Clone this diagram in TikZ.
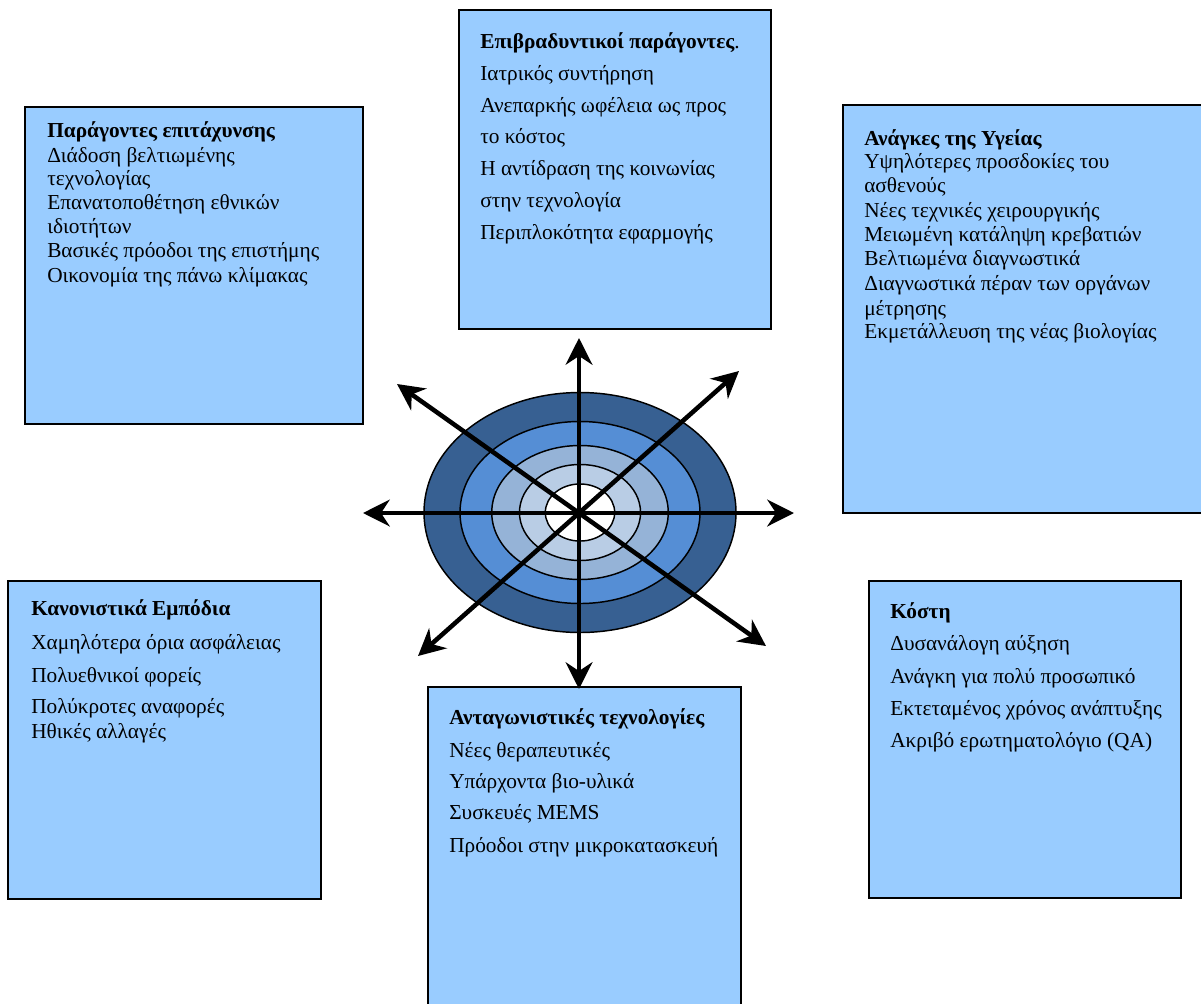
\documentclass[tikz,border=0pt]{standalone}
\usepackage{fontspec}
\setmainfont{Liberation Serif}
\usetikzlibrary{arrows.meta}
\definecolor{boxfill}{HTML}{99CCFF}
\definecolor{ringA}{HTML}{376092}
\definecolor{ringB}{HTML}{558ED5}
\definecolor{ringC}{HTML}{95B3D7}
\definecolor{ringD}{HTML}{B9CDE5}
\begin{document}
\begin{tikzpicture}[x=0.75pt,y=-0.75pt,
  panel/.style={draw=black, line width=1.5pt, fill=boxfill},
  ring/.style={draw=black, line width=1.1pt},
  ray/.style={line width=3.4pt, -{Stealth[length=20pt,width=20pt,inset=6.5pt]}},
  txt/.style={anchor=base west, inner sep=0pt, font=\fontsize{16pt}{18pt}\selectfont}]
\useasboundingbox (0,0) rectangle (1201,1003);

% panels
\draw[panel] (25,107) rectangle (363,424);
\draw[panel] (459,10) rectangle (771,329);
\draw[panel] (843,105) rectangle (1205,513);
\draw[panel] (8,581) rectangle (321,899);
\draw[panel] (428,687) rectangle (741,1008);
\draw[panel] (869,581) rectangle (1181,898);

% accelerating factors
\foreach \yy/\lbl [count=\i] in {
  137/{\bfseries Παράγοντες επιτάχυνσης},
  162/Διάδοση βελτιωμένης,
  185/τεχνολογίας,
  209/Επανατοποθέτηση εθνικών,
  233/ιδιοτήτων,
  257/Βασικές πρόοδοι της επιστήμης,
  282/Οικονομία της πάνω κλίμακας}
  \node[txt, name=acc\i] at (47,\yy) {\lbl};

% retarding factors
\foreach \yy/\lbl [count=\i] in {
  48/{\textbf{Επιβραδυντικοί παράγοντες}.},
  80/Ιατρικός συντήρηση,
  112/Ανεπαρκής ωφέλεια ως προς,
  143/το κόστος,
  175/Η αντίδραση της κοινωνίας,
  207/στην τεχνολογία,
  239/Περιπλοκότητα εφαρμογής}
  \node[txt, name=ret\i] at (480,\yy) {\lbl};

% health needs
\foreach \yy/\lbl [count=\i] in {
  145/{\bfseries Ανάγκες της Υγείας},
  168/Υψηλότερες προσδοκίες του,
  192/ασθενούς,
  217/Νέες τεχνικές χειρουργικής,
  241/Μειωμένη κατάληψη κρεβατιών,
  265/Βελτιωμένα διαγνωστικά,
  290/Διαγνωστικά πέραν των οργάνων,
  315/μέτρησης,
  338/Εκμετάλλευση της νέας βιολογίας}
  \node[txt, name=hlt\i] at (864,\yy) {\lbl};

% regulatory barriers
\foreach \yy/\lbl [count=\i] in {
  615/{\bfseries Κανονιστικά Εμπόδια},
  649/Χαμηλότερα όρια ασφάλειας,
  682/Πολυεθνικοί φορείς,
  713/Πολύκροτες αναφορές,
  738/Ηθικές αλλαγές}
  \node[txt, name=reg\i] at (31,\yy) {\lbl};

% competing technologies
\foreach \yy/\lbl [count=\i] in {
  724/{\bfseries Ανταγωνιστικές τεχνολογίες},
  757/Νέες θεραπευτικές,
  788/Υπάρχοντα βιο-υλικά,
  819/Συσκευές MEMS,
  852/Πρόοδοι στην μικροκατασκευή}
  \node[txt, name=cmp\i] at (449,\yy) {\lbl};

% costs
\foreach \yy/\lbl [count=\i] in {
  618/{\bfseries Κόστη},
  650/Δυσανάλογη αύξηση,
  683/Ανάγκη για πολύ προσωπικό,
  715/Εκτεταμένος χρόνος ανάπτυξης,
  747/Ακριβό ερωτηματολόγιο (QA)}
  \node[txt, name=cst\i] at (890,\yy) {\lbl};

% target rings
\fill[ringA, ring] (580,512.5) ellipse [x radius=117pt, y radius=90pt];
\fill[ringB, ring] (580,512.5) ellipse [x radius=90pt, y radius=68.25pt];
\fill[ringC, ring] (580,512.5) ellipse [x radius=66.2pt, y radius=50.25pt];
\fill[ringD, ring] (580,512.5) ellipse [x radius=45.4pt, y radius=36pt];
\fill[white, ring] (580,512.5) ellipse [x radius=26pt, y radius=21.4pt];

% rays
\coordinate (hub) at (579,513);
\coordinate (pN) at (579,338);
\coordinate (pS) at (579,689);
\coordinate (pW) at (363,513);
\coordinate (pE) at (794,513);
\coordinate (pNE) at (739,371);
\coordinate (pNW) at (397,384);
\coordinate (pSW) at (418,656);
\coordinate (pSE) at (766,646);
\foreach \p in {pN,pS,pW,pE,pNE,pNW,pSW,pSE}
  \draw[ray] (hub) -- (\p);
\end{tikzpicture}
\end{document}
